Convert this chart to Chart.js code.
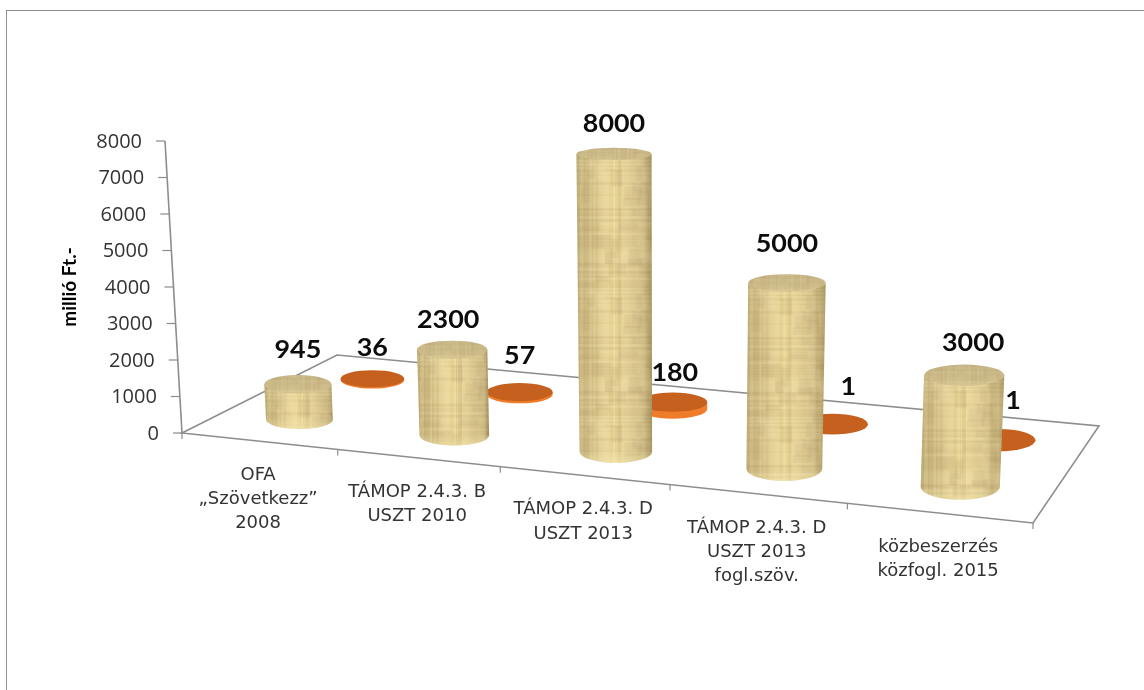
<!DOCTYPE html>
<html><head><meta charset="utf-8">
<style>
html,body{margin:0;padding:0;background:#fff;overflow:hidden}
#frame{position:absolute;left:6px;top:10px;right:0;bottom:-2px;border:solid #8f8f8f;border-width:1.5px 0 0 1.5px}
canvas{position:absolute;left:0;top:0}
</style>
<script src="https://cdn.jsdelivr.net/npm/chart.js@4"></script>
</head><body><div id="frame"></div><canvas id="c" width="1144" height="690"></canvas>
<script>
const categories = [
  ["OFA","„Szövetkezz”","2008"],
  ["TÁMOP 2.4.3. B","USZT 2010"],
  ["TÁMOP 2.4.3. D","USZT 2013"],
  ["TÁMOP 2.4.3. D","USZT 2013","fogl.szöv."],
  ["közbeszerzés","közfogl. 2015"]
];
const tanValues = [945, 2300, 8000, 5000, 3000];
const orangeValues = [36, 57, 180, 1, 1];
const yTitle = "millió Ft.-";

// perspective layout (not data)
const FLOOR = [[182,433],[1033,523],[1099,426],[337,355]];
const DEPTH = [0.25, 0.745];
const VPX = 667, VPD = 8330, HEIGHT_GAIN = 1.02;
const NUDGE = [[[0,2],[-4,7],[0,6],[0,-3],[9,4]],[[0,6],[0,0],[2,7],[16,-1],[15,-3]]];
const LABEL_GAP = 36;

function homography(q){
  const [p0,p1,p2,p3]=q;
  const dx1=p1[0]-p2[0],dx2=p3[0]-p2[0],sx=p0[0]-p1[0]+p2[0]-p3[0];
  const dy1=p1[1]-p2[1],dy2=p3[1]-p2[1],sy=p0[1]-p1[1]+p2[1]-p3[1];
  const den=dx1*dy2-dx2*dy1;
  const g=(sx*dy2-dx2*sy)/den,h=(dx1*sy-sx*dy1)/den;
  const a=p1[0]-p0[0]+g*p1[0],b=p3[0]-p0[0]+h*p3[0],c=p0[0];
  const d=p1[1]-p0[1]+g*p1[1],e=p3[1]-p0[1]+h*p3[1],f=p0[1];
  return (u,v)=>{const w=g*u+h*v+1;return [(a*u+b*v+c)/w,(d*u+e*v+f)/w];};
}
const floorAt = homography(FLOOR);
const lift = (p,h)=>[p[0]+(p[0]-VPX)*h/VPD, p[1]-h];
const tilt = y=>0.087+0.00048*y;

// soft woven texture tile (deterministic)
function hash(n){let x=Math.sin(n*127.1+11.7)*43758.5453;return x-Math.floor(x);}
function makeTile(){
  const S=128;
  const t=document.createElement('canvas');t.width=t.height=S;
  const g=t.getContext('2d');
  g.filter='blur(0.6px)';
  let k=0;
  for(let y=0;y<S;){
    const h=1+Math.floor(hash(k)*3);
    g.fillStyle=hash(k+50)>0.5?`rgba(120,95,45,${0.02+0.07*hash(k+90)})`:`rgba(255,245,200,${0.02+0.06*hash(k+130)})`;
    g.fillRect(-2,y,S+4,h);y+=h;k++;
  }
  for(let x=0;x<S;){
    const w=1+Math.floor(hash(k)*4);
    g.fillStyle=hash(k+50)>0.5?`rgba(120,95,45,${0.03+0.08*hash(k+90)})`:`rgba(255,245,200,${0.03+0.08*hash(k+130)})`;
    g.fillRect(x,-2,w,S+4);x+=w;k++;
  }
  for(let i=0;i<70;i++){
    g.fillStyle=hash(i+900)>0.5?'rgba(125,100,50,0.07)':'rgba(255,245,205,0.07)';
    g.fillRect(hash(i+1000)*S,hash(i+1100)*S,5+hash(i+1200)*14,5+hash(i+1300)*14);
  }
  return t;
}
let tile=null;

function ellipseAt(ctx,c,rx,ry,start,end,ccw){ctx.ellipse(c[0],c[1],rx,ry,0,start,end,ccw);}

function drawTan(ctx,bot,top,rxB,rxT){
  const ryB=rxB*tilt(bot[1]), ryT=rxT*tilt(top[1]);
  if(!tile) tile=makeTile();
  ctx.save();
  ctx.beginPath();
  ctx.moveTo(top[0]-rxT,top[1]);
  ctx.lineTo(bot[0]-rxB,bot[1]);
  ellipseAt(ctx,bot,rxB,ryB,Math.PI,0,true);
  ctx.lineTo(top[0]+rxT,top[1]);
  ctx.closePath();
  const x0=Math.min(bot[0]-rxB,top[0]-rxT),x1=Math.max(bot[0]+rxB,top[0]+rxT);
  const gr=ctx.createLinearGradient(x0,0,x1,0);
  gr.addColorStop(0,'#b3a06a');gr.addColorStop(.05,'#cbb780');gr.addColorStop(.25,'#dbc88e');
  gr.addColorStop(.48,'#edda9c');gr.addColorStop(.7,'#e0cd92');gr.addColorStop(.93,'#cbb780');gr.addColorStop(1,'#a89664');
  ctx.fillStyle=gr;ctx.fill();
  ctx.clip();
  ctx.save();ctx.translate(x0,top[1]);
  ctx.fillStyle=ctx.createPattern(tile,'repeat');
  ctx.fillRect(-2,-20,x1-x0+4,bot[1]-top[1]+60);
  ctx.restore();
  const fade=ctx.createLinearGradient(0,bot[1]+ryB-12,0,bot[1]+ryB);
  fade.addColorStop(0,'rgba(250,235,180,0)');fade.addColorStop(1,'rgba(250,235,180,0.45)');
  ctx.fillStyle=fade;ctx.fillRect(x0-2,bot[1]+ryB-12,x1-x0+4,14);
  ctx.restore();
  // top cap
  ctx.save();
  ctx.beginPath();ellipseAt(ctx,top,rxT,ryT,0,Math.PI*2);
  const cg=ctx.createLinearGradient(0,top[1]-ryT,0,top[1]+ryT);
  cg.addColorStop(0,'#c6b484');cg.addColorStop(1,'#d3c28f');
  ctx.fillStyle=cg;ctx.fill();
  ctx.clip();
  ctx.translate(top[0],top[1]);
  ctx.fillStyle=ctx.createPattern(tile,'repeat');
  ctx.globalAlpha=.6;
  ctx.fillRect(-rxT,-ryT,rxT*2,ryT*2);
  ctx.restore();
}
function drawDisc(ctx,bot,top,rxB,rxT){
  const ryB=rxB*tilt(bot[1]), ryT=rxT*tilt(top[1]);
  if(bot[1]-top[1]>0.5){
    ctx.beginPath();
    ellipseAt(ctx,bot,rxB,ryB,Math.PI,0,true);
    ctx.lineTo(top[0]+rxT,top[1]);
    ctx.lineTo(top[0]-rxT,top[1]);
    ctx.closePath();
    ctx.fillStyle='#f07c2a';ctx.fill();
  }
  ctx.beginPath();ellipseAt(ctx,top,rxT,ryT,0,Math.PI*2);
  ctx.fillStyle='#c5601f';ctx.fill();
}
function barGeom(chart,el,ds){
  const a=chart.chartArea,w=a.right-a.left;
  const u=(el.x-a.left)/w,du=el.width/2/w,v=DEPTH[ds];
  const c=floorAt(u,v),l=floorAt(u-du,v),r=floorAt(u+du,v);
  const rx=(r[0]-l[0])/2,h=(el.base-el.y)*HEIGHT_GAIN;
  const top=lift(c,h);
  const rxT=rx*(1+h/VPD);
  return {bot:c,top,rxB:rx,rxT};
}

const cylinderPlugin={
  id:'cylinders',
  afterUpdate(chart){
    const a=chart.chartArea,ys=chart.scales.y,xs=chart.scales.x;
    ys.getLabelItems().forEach((it,i)=>{
      const py=ys.getPixelForValue(ys.ticks[i].value);
      const p=lift(FLOOR[0],FLOOR[0][1]-py);
      it.options.translation=[p[0]-23,py+1];
      it.options.textAlign='right';
      it.options.textBaseline='middle';
    });
    xs.getLabelItems().forEach((it,i)=>{
      const u=(xs.getPixelForValue(i)-a.left)/(a.right-a.left);
      const p=floorAt(u,0);
      it.options.translation=[p[0]-1,p[1]+25];
      it.options.textAlign='center';
      it.options.textBaseline='top';
      it.textOffset=0;
    });
  },
  beforeDatasetsDraw(chart){
    const ctx=chart.ctx,ys=chart.scales.y;
    ctx.save();
    ctx.strokeStyle='#8d8d8d';ctx.lineWidth=1.6;
    ctx.beginPath();
    FLOOR.forEach((p,i)=>i?ctx.lineTo(p[0],p[1]):ctx.moveTo(p[0],p[1]));
    ctx.closePath();ctx.stroke();
    // value axis
    const b=FLOOR[0];
    ctx.beginPath();ctx.moveTo(b[0],b[1]);
    const t=lift(b,b[1]-ys.getPixelForValue(ys.max));
    ctx.lineTo(t[0],t[1]);ctx.stroke();
    ctx.lineWidth=1.2;
    ys.ticks.forEach(tk=>{
      const py=ys.getPixelForValue(tk.value),p=lift(b,b[1]-py);
      ctx.beginPath();ctx.moveTo(p[0],py);ctx.lineTo(p[0]-9,py);ctx.stroke();
    });
    for(let i=0;i<=categories.length;i++){
      const p=floorAt(i/categories.length,0);
      ctx.beginPath();ctx.moveTo(p[0],p[1]);ctx.lineTo(p[0],p[1]+6);ctx.stroke();
    }
    ctx.restore();
  },
  beforeDatasetDraw(chart,args){
    const ctx=chart.ctx,meta=chart.getDatasetMeta(args.index);
    ctx.save();
    meta.data.forEach(el=>{
      const g=barGeom(chart,el,args.index);
      (args.index===0?drawTan:drawDisc)(ctx,g.bot,g.top,g.rxB,g.rxT);
    });
    ctx.restore();
    return false;
  },
  afterDatasetsDraw(chart){
    const ctx=chart.ctx;
    ctx.save();
    ctx.fillStyle='#0c0c0c';ctx.textAlign='center';ctx.textBaseline='middle';
    ctx.font='bold 24px Lato';
    chart.data.datasets.forEach((d,ds)=>{
      chart.getDatasetMeta(ds).data.forEach((el,i)=>{
        const g=barGeom(chart,el,ds),n=NUDGE[ds][i];
        const x=g.top[0]+n[0],y=g.top[1]-LABEL_GAP+n[1];
        ctx.save();ctx.translate(x,y);ctx.scale(1.12,1);
        ctx.fillText(String(d.data[i]),0,0);
        ctx.restore();
      });
    });
    ctx.restore();
  }
};

new Chart(document.getElementById('c'),{
  type:'bar',
  data:{labels:categories,datasets:[
    {label:'A',data:tanValues,backgroundColor:'#e0cc8f',grouped:false,categoryPercentage:1,barPercentage:0.44},
    {label:'B',data:orangeValues,backgroundColor:'#c5601f',grouped:false,categoryPercentage:1,barPercentage:0.44}
  ]},
  options:{
    responsive:false,animation:false,
    layout:{padding:{left:58,right:111,top:141,bottom:57}},
    plugins:{legend:{display:false},tooltip:{enabled:false},title:{display:false}},
    scales:{
      x:{grid:{display:false},border:{display:false},
         ticks:{autoSkip:false,maxRotation:0,minRotation:0,color:'#333',font:{family:'DejaVu Sans',size:18,lineHeight:1.35}},
         afterFit(s){s.height=200;}},
      y:{min:0,max:8000,grid:{display:false},border:{display:false},
         ticks:{stepSize:1000,color:'#333',font:{family:'Open Sans',size:20},callback:v=>String(v)},
         title:{display:true,text:yTitle,color:'#000',padding:0,font:{family:'Lato',size:19,weight:'bold'}},
         afterFit(s){s.width=124;}}
    }
  },
  plugins:[cylinderPlugin]
});
</script></body></html>
